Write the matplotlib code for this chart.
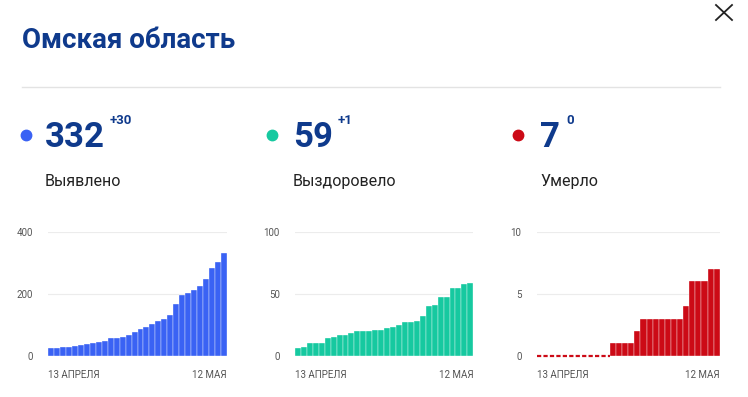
import matplotlib
matplotlib.use("Agg")
import matplotlib.pyplot as plt
from matplotlib.lines import Line2D
import numpy as np

W, H = 748, 397

# Data: 30 days, 13 April .. 12 May
detected = [25, 25, 27, 29, 32, 35, 38, 42, 45, 48, 57, 57, 61, 66, 75,
            86, 91, 101, 111, 120, 131, 166, 195, 201, 212, 226, 249, 283, 302, 332]
recovered = [6, 7, 10, 10, 10, 14, 15, 17, 17, 18, 20, 20, 20, 21, 21,
             22, 23, 25, 27, 27, 28, 32, 40, 41, 47, 47, 55, 55, 58, 59]
died = [0, 0, 0, 0, 0, 0, 0, 0, 0, 0, 0, 0, 1, 1, 1,
        1, 2, 3, 3, 3, 3, 3, 3, 3, 4, 6, 6, 6, 7, 7]

titles = ["Выявлено", "Выздоровело", "Умерло"]
totals = ["332", "59", "7"]
deltas = ["+30", "+1", "0"]
y_ticks = [[0, 200, 400], [0, 50, 100], [0, 5, 10]]
date_labels = ["13 АПРЕЛЯ", "12 МАЯ"]

NAVY = "#0f3a8c"
COLORS = ["#3a62f4", "#16c9a0", "#cc0a16"]

plt.rcParams["font.family"] = ["Roboto", "DejaVu Sans"]

fig = plt.figure(figsize=(W / 100, H / 100), dpi=100)


def fx(x):
    return x / W


def fy(y):
    return 1 - y / H


# header
fig.text(fx(22), fy(48), "Омская область", fontsize=20, fontweight="bold",
         color=NAVY, va="baseline", ha="left")
fig.add_artist(Line2D([fx(22), fx(720)], [fy(87), fy(87)], color="#e3e3e3", lw=1))
# close cross
fig.add_artist(Line2D([fx(716), fx(732)], [fy(5), fy(20)], color="#222222", lw=1.3))
fig.add_artist(Line2D([fx(716), fx(732)], [fy(20), fy(5)], color="#222222", lw=1.3))

series = [detected, recovered, died]
dot_x = [26, 272, 518]
text_x = [45, 293, 540]
delta_x = [110, 338, 566]
ax_left = [48.3, 295, 536.7]
ax_width = [178.4, 178.3, 183]

for i in range(3):
    col = COLORS[i]
    fig.add_artist(Line2D([fx(dot_x[i])], [fy(135)], marker="o", markersize=7.5,
                          color=col, lw=0))
    fig.text(fx(text_x[i]), fy(147), totals[i], fontsize=25, fontweight="bold",
             color=NAVY, va="baseline", ha="left")
    fig.text(fx(delta_x[i]), fy(124), deltas[i], fontsize=9.5, fontweight="bold",
             color=NAVY, va="baseline", ha="left")
    fig.text(fx(text_x[i]), fy(186), titles[i], fontsize=11.5,
             color="#222222", va="baseline", ha="left")

    ax = fig.add_axes([fx(ax_left[i]), fy(355.7), ax_width[i] / W, 124 / H])
    vals = np.array(series[i])
    x = np.arange(len(vals))
    ax.bar(x, vals, width=1.0, color=col, edgecolor="#ffffff", linewidth=0.25,
           zorder=2)
    zero = vals == 0
    if zero.any():
        last_zero = np.where(zero)[0].max()
        ax.plot([-0.5, last_zero + 0.5], [0, 0], color=col, lw=1.6,
                linestyle=(0, (1.9, 1.0)), zorder=3, clip_on=False)
    ax.set_xlim(-0.5, len(vals) - 0.5)
    ax.set_ylim(0, y_ticks[i][-1])
    ax.set_yticks(y_ticks[i])
    ax.set_yticklabels([str(t) for t in y_ticks[i]])
    ax.yaxis.grid(True, color="#ececec", lw=0.8, zorder=0)
    ax.set_xticks([-0.5, len(vals) - 0.5])
    ax.set_xticklabels(date_labels)
    xt = ax.get_xticklabels()
    xt[0].set_ha("left")
    xt[1].set_ha("right")
    ax.tick_params(axis="both", length=0, labelsize=7, labelcolor="#555555")
    ax.tick_params(axis="y", pad=11)
    ax.tick_params(axis="x", pad=10)
    for s in ax.spines.values():
        s.set_visible(False)

fig.savefig("out.png", dpi=100)
